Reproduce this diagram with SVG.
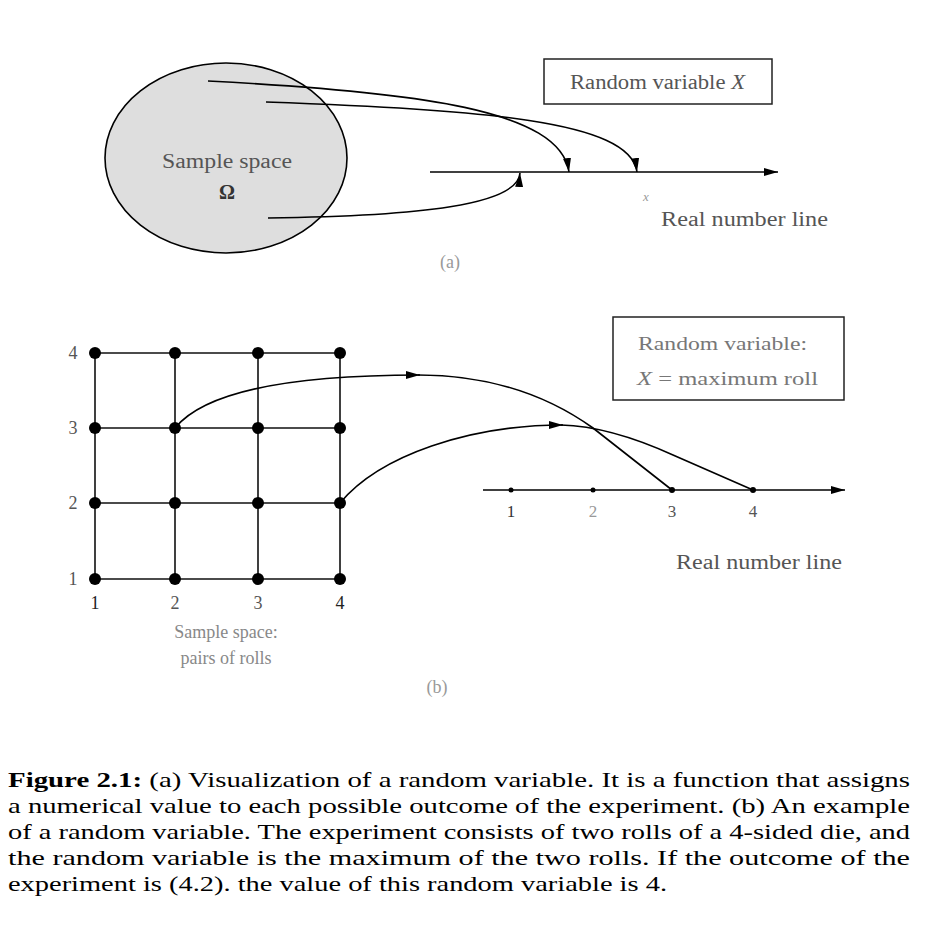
<svg xmlns="http://www.w3.org/2000/svg" width="932" height="928" viewBox="0 0 932 928">
<style>
.lbl{font-family:"Liberation Serif","Times New Roman",serif;fill:#555;}
.cap{font-family:"Liberation Serif","Times New Roman",serif;fill:#000;font-size:21px;}
.ln{fill:none;stroke:#000;stroke-width:1.6;}
.grid{stroke:#111;stroke-width:1.6;fill:none;}
.dot{fill:#000;}
.box{fill:#fff;stroke:#222;stroke-width:1.5;}
</style>
<defs>
<marker id="ah" viewBox="0 0 14 8" refX="14" refY="4" markerWidth="14" markerHeight="8" markerUnits="userSpaceOnUse" orient="auto">
<path d="M0,0 L14,4 L0,8 Z" fill="#000"/>
</marker>
</defs>
<rect width="932" height="928" fill="#fff"/>

<!-- Part (a) -->
<g id="sample-space-a">
<ellipse cx="226" cy="158" rx="121" ry="95" fill="#dedede" stroke="#000" stroke-width="1.6"/>
<text class="lbl" x="227" y="168" font-size="20" text-anchor="middle" textLength="130" lengthAdjust="spacingAndGlyphs">Sample space</text>
<text class="lbl" x="227" y="199" font-size="20" text-anchor="middle" font-weight="bold" style="fill:#333">Ω</text>
</g>
<g id="rv-box-a">
<rect class="box" x="544" y="59" width="228" height="45"/>
<text class="lbl" x="570" y="89" font-size="20" textLength="175" lengthAdjust="spacingAndGlyphs">Random variable <tspan font-style="italic">X</tspan></text>
</g>
<g id="number-line-a">
<path class="ln" d="M430,172 L778,172" marker-end="url(#ah)"/>
<text class="lbl" x="643" y="201" font-size="13" font-style="italic" style="fill:#999">x</text>
<text class="lbl" x="661" y="226" font-size="20" textLength="167" lengthAdjust="spacingAndGlyphs">Real number line</text>
</g>
<g id="connectors-a">
<path class="ln" d="M208,81 C420,92 560,110 569,172" marker-end="url(#ah)"/>
<path class="ln" d="M266,102 C480,110 630,120 637,172" marker-end="url(#ah)"/>
<path class="ln" d="M268,218 C420,216 518,205 520,173" marker-end="url(#ah)"/>
</g>
<text class="lbl" x="450" y="268" font-size="18" text-anchor="middle" style="fill:#999">(a)</text>

<!-- Part (b) -->
<g id="grid-b">
<path class="grid" d="M95,353 H340 M95,428 H340 M95,503 H340 M95,579 H340 M95,353 V579 M175,353 V579 M258,353 V579 M340,353 V579"/>
</g>
<g id="outcomes-b">
<circle class="dot" cx="95" cy="353" r="6"/><circle class="dot" cx="175" cy="353" r="6"/><circle class="dot" cx="258" cy="353" r="6"/><circle class="dot" cx="340" cy="353" r="6"/>
<circle class="dot" cx="95" cy="428" r="6"/><circle class="dot" cx="175" cy="428" r="6"/><circle class="dot" cx="258" cy="428" r="6"/><circle class="dot" cx="340" cy="428" r="6"/>
<circle class="dot" cx="95" cy="503" r="6"/><circle class="dot" cx="175" cy="503" r="6"/><circle class="dot" cx="258" cy="503" r="6"/><circle class="dot" cx="340" cy="503" r="6"/>
<circle class="dot" cx="95" cy="579" r="6"/><circle class="dot" cx="175" cy="579" r="6"/><circle class="dot" cx="258" cy="579" r="6"/><circle class="dot" cx="340" cy="579" r="6"/>
</g>
<g id="axis-labels-b" class="lbl" font-size="18" text-anchor="middle">
<text x="73" y="359">4</text><text x="73" y="434">3</text><text x="73" y="509">2</text><text x="73" y="585">1</text>
<text x="95" y="609" style="fill:#222">1</text><text x="175" y="609">2</text><text x="258" y="609">3</text><text x="340" y="609" style="fill:#222">4</text>
</g>
<g id="sample-space-label-b" class="lbl" font-size="18" text-anchor="middle" style="fill:#888">
<text x="226" y="638">Sample space:</text>
<text x="226" y="664">pairs of rolls</text>
</g>
<g id="rv-box-b">
<rect class="box" x="613" y="317" width="231" height="83"/>
<text class="lbl" x="638" y="350" font-size="19" textLength="169" lengthAdjust="spacingAndGlyphs" style="fill:#777">Random variable:</text>
<text class="lbl" x="637" y="385" font-size="19" textLength="181" lengthAdjust="spacingAndGlyphs" style="fill:#777"><tspan font-style="italic">X</tspan> = maximum roll</text>
</g>
<g id="number-line-b">
<path class="ln" d="M483,490 L845,490" marker-end="url(#ah)"/>
<circle class="dot" cx="511" cy="490" r="2.5"/><circle class="dot" cx="593" cy="490" r="2.5"/><circle class="dot" cx="672" cy="490" r="3"/><circle class="dot" cx="753" cy="490" r="3"/>
<g class="lbl" font-size="17" text-anchor="middle">
<text x="511" y="517" style="fill:#333">1</text><text x="593" y="517" style="fill:#999">2</text><text x="672" y="517">3</text><text x="753" y="517">4</text>
</g>
<text class="lbl" x="676" y="569" font-size="20" textLength="166" lengthAdjust="spacingAndGlyphs">Real number line</text>
</g>
<g id="connectors-b">
<path class="ln" d="M175,428 C210,385 320,375 420,375" marker-end="url(#ah)"/>
<path class="ln" d="M418,375 C480,375 540,390 593,428 L672,490"/>
<path class="ln" d="M340,503 C380,455 470,425 563,425" marker-end="url(#ah)"/>
<path class="ln" d="M561,425 C600,426 640,440 673,455 L753,490"/>
</g>
<text class="lbl" x="437" y="693" font-size="18" text-anchor="middle" style="fill:#999">(b)</text>

<!-- Caption -->
<g id="caption">
<text class="cap" x="8" y="787" textLength="902" lengthAdjust="spacingAndGlyphs"><tspan font-weight="bold">Figure 2.1:</tspan> (a) Visualization of a random variable. It is a function that assigns</text>
<text class="cap" x="8" y="813" textLength="902" lengthAdjust="spacingAndGlyphs">a numerical value to each possible outcome of the experiment. (b) An example</text>
<text class="cap" x="8" y="839" textLength="902" lengthAdjust="spacingAndGlyphs">of a random variable. The experiment consists of two rolls of a 4-sided die, and</text>
<text class="cap" x="8" y="865" textLength="902" lengthAdjust="spacingAndGlyphs">the random variable is the maximum of the two rolls. If the outcome of the</text>
<text class="cap" x="8" y="891" textLength="659" lengthAdjust="spacingAndGlyphs">experiment is (4.2). the value of this random variable is 4.</text>
</g>
</svg>
